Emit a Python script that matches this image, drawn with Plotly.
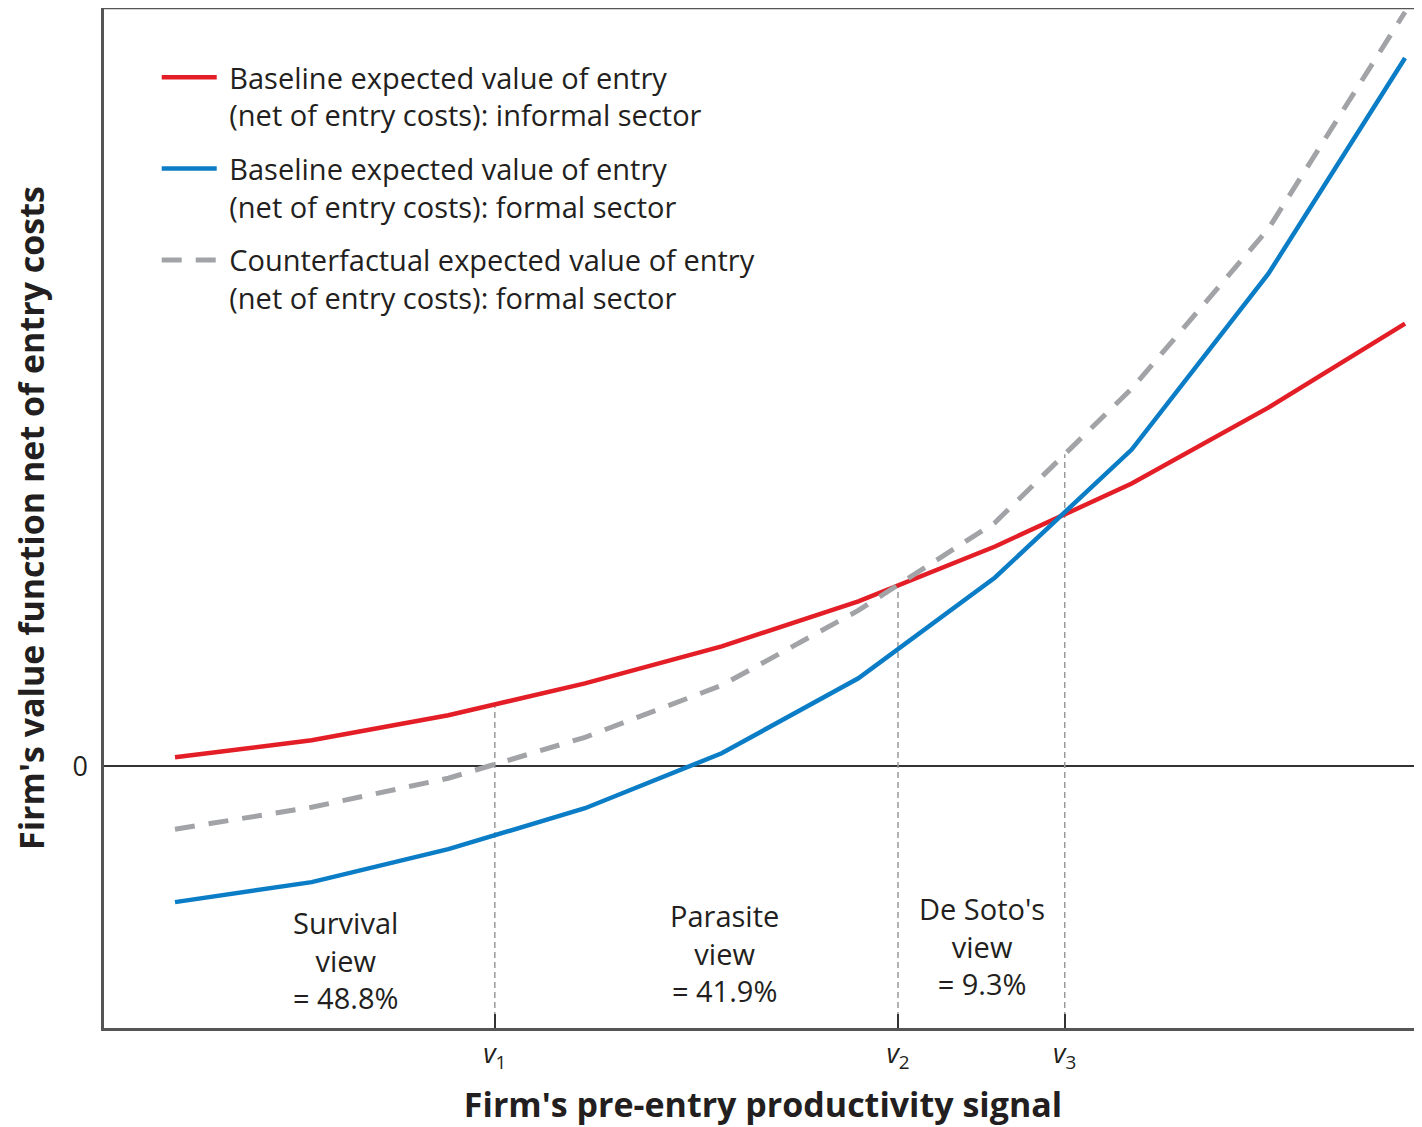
import numpy as np
import plotly.graph_objects as go

# ---- data ----
signal = [0, 1, 2, 3, 4, 5, 6, 7, 8, 9]
informal_baseline = [0.09, 0.26, 0.51, 0.83, 1.20, 1.65, 2.20, 2.83, 3.59, 4.43]
formal_baseline = [-1.36, -1.16, -0.83, -0.42, 0.13, 0.88, 1.89, 3.17, 4.93, 7.09]
formal_counterfactual = [-0.63, -0.41, -0.12, 0.29, 0.81, 1.56, 2.44, 3.78, 5.38, 7.55]

threshold_x = [2.34, 5.29, 6.51]
threshold_labels = ["<i>v</i><sub>1</sub>", "<i>v</i><sub>2</sub>", "<i>v</i><sub>3</sub>"]

region_x = [1.25, 4.02, 5.905]
region_y = [-1.94, -1.87, -1.80]
region_text = ["Survival<br>view<br>= 48.8%", "Parasite<br>view<br>= 41.9%", "De Soto's<br>view<br>= 9.3%"]

x_range = [-0.5195, 9.124]
y_range = [-2.62, 7.59]

FONT = "Open Sans"
TXT = "#231f20"
RED = "#e41e26"
BLUE = "#0a7dc6"
GRAY = "#a2a3a6"

fig = go.Figure()

# vertical threshold lines (from curve down to the x axis)
for vx in threshold_x:
    top = max(np.interp(vx, signal, informal_baseline),
              np.interp(vx, signal, formal_baseline),
              np.interp(vx, signal, formal_counterfactual))
    fig.add_trace(go.Scatter(x=[vx, vx], y=[y_range[0], top], mode="lines",
                             line=dict(color="#9a9a9a", width=1.5, dash="6px,4px"),
                             showlegend=False, hoverinfo="skip"))

fig.add_trace(go.Scatter(x=signal, y=informal_baseline, mode="lines",
                         line=dict(color=RED, width=4.5),
                         name="&nbsp;Baseline expected value of entry<br>&nbsp;(net of entry costs): informal sector",
                         legendgroup="a"))
fig.add_trace(go.Scatter(x=signal, y=formal_baseline, mode="lines",
                         line=dict(color=BLUE, width=4.5),
                         name="&nbsp;Baseline expected value of entry<br>&nbsp;(net of entry costs): formal sector",
                         legendgroup="b"))
fig.add_trace(go.Scatter(x=signal, y=formal_counterfactual, mode="lines",
                         line=dict(color=GRAY, width=5, dash="20px,14px"),
                         name="&nbsp;Counterfactual expected value of entry<br>&nbsp;(net of entry costs): formal sector",
                         legendgroup="c"))

for rx, ry, rt in zip(region_x, region_y, region_text):
    fig.add_annotation(x=rx, y=ry, text=rt, showarrow=False,
                       font=dict(family=FONT, size=29, color=TXT), align="center")

# frame lines: top
fig.add_shape(type="line", xref="paper", yref="paper", x0=0, x1=1, y0=1, y1=1,
              line=dict(color="#555555", width=2.5))

fig.update_layout(
    width=1414, height=1119,
    margin=dict(l=96, r=0, t=0, b=99),
    plot_bgcolor="white", paper_bgcolor="white",
    font=dict(family=FONT, color=TXT),
    legend=dict(x=0.04, y=0.957, xanchor="left", yanchor="top",
                font=dict(family=FONT, size=29, color=TXT),
                valign="top", tracegroupgap=13, bgcolor="rgba(0,0,0,0)",
                itemwidth=55),
    xaxis=dict(range=x_range, showgrid=False, zeroline=False,
               showline=True, linecolor="#555555", linewidth=2.5,
               ticks="inside", ticklen=14, tickwidth=2, tickcolor="#333333",
               tickvals=threshold_x, ticktext=threshold_labels,
               tickfont=dict(family=FONT, size=27, color=TXT),
               title=dict(text="<b>Firm's pre-entry productivity signal</b>",
                          font=dict(family=FONT, size=34, color=TXT), standoff=27)),
    yaxis=dict(range=y_range, showgrid=False,
               zeroline=True, zerolinecolor="#333333", zerolinewidth=1.5,
               showline=True, linecolor="#555555", linewidth=2.5,
               ticks="inside", ticklen=16, tickwidth=2, tickcolor="#333333",
               tickvals=[0], ticktext=["0"], ticklabelstandoff=8,
               tickfont=dict(family=FONT, size=27, color=TXT),
               title=dict(text="<b>Firm's value function net of entry costs</b>",
                          font=dict(family=FONT, size=34, color=TXT), standoff=26)),
)

fig.write_html("out.html")
